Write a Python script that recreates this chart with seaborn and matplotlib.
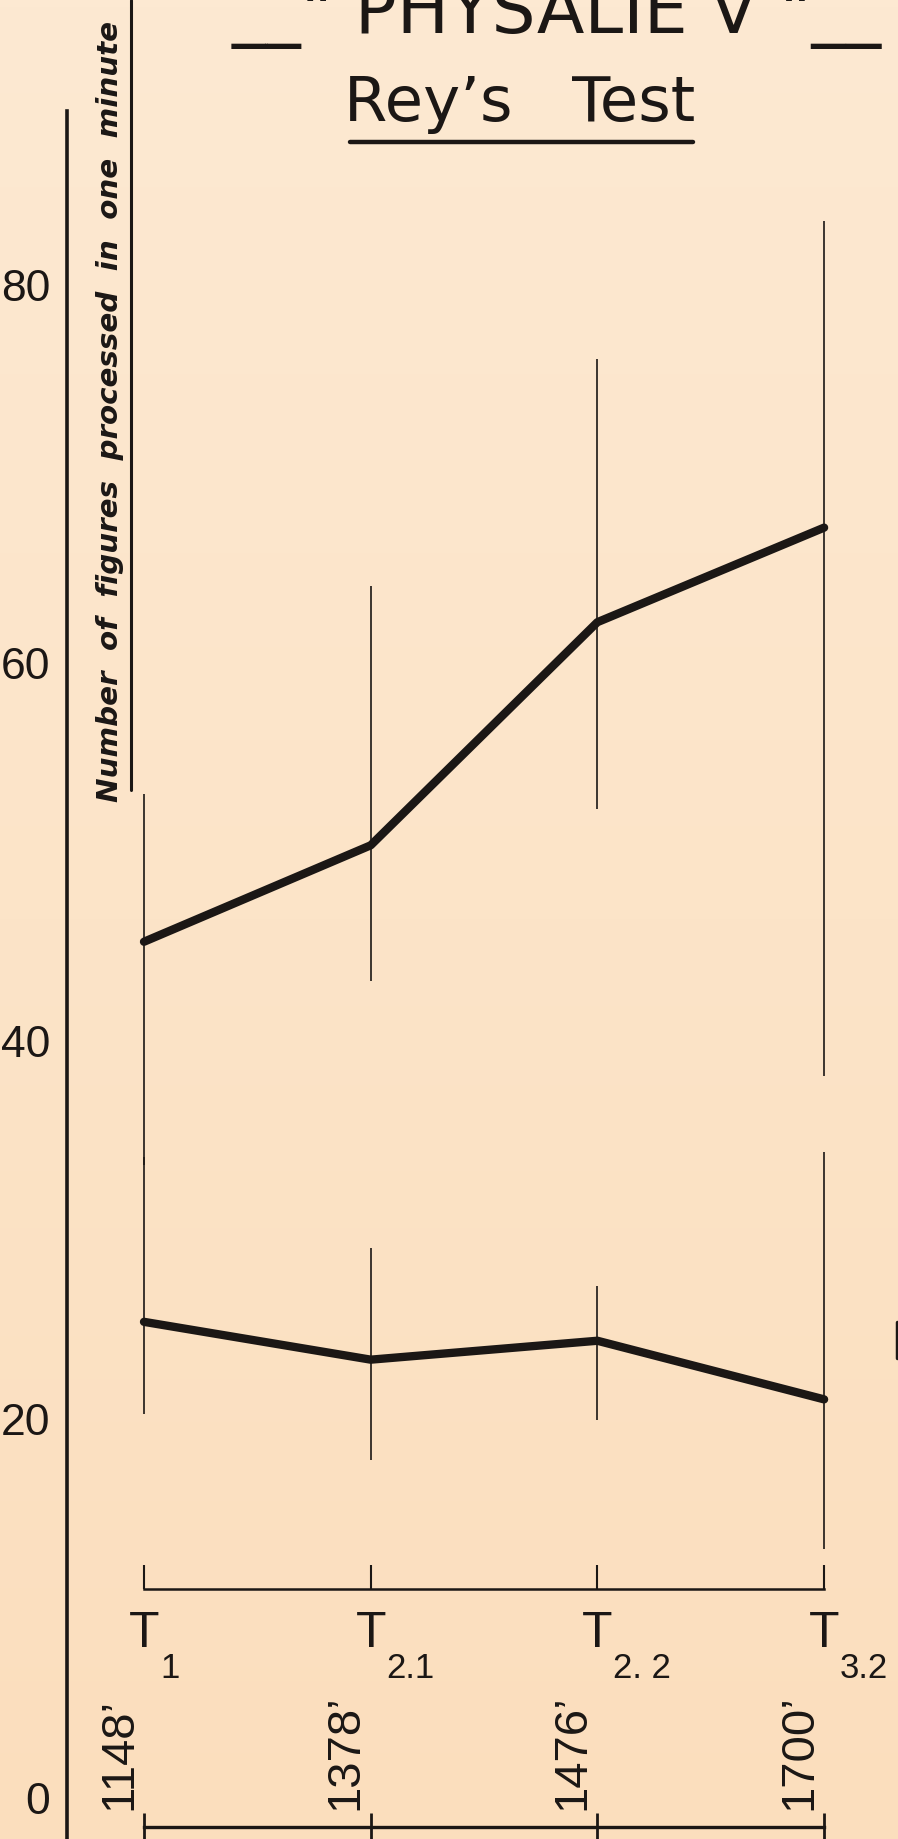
import matplotlib
matplotlib.use("Agg")
import matplotlib.pyplot as plt
from matplotlib.lines import Line2D
import numpy as np
import pandas as pd
import seaborn as sns

# ---- data ----
sessions = ["T", "T", "T", "T"]
session_subs = ["1", "2.1", "2. 2", "3.2"]
depths = ["1148\u2019", "1378\u2019", "1476\u2019", "1700\u2019"]

upper_mean = [46.1, 51.2, 63.0, 68.0]
upper_low = [34.3, 44.0, 53.1, 39.0]
upper_high = [53.9, 64.9, 76.9, 84.2]

lower_mean = [26.0, 24.0, 25.0, 21.9]
lower_low = [21.1, 18.7, 20.8, 14.0]
lower_high = [34.7, 29.9, 27.9, 35.0]

y_ticks = [0, 20, 40, 60, 80]

# ---- layout (pixels of the 898x1839 sheet) ----
W, H = 898, 1839
X0, DX = 144, 226.7      # pixel of first session, pixels per session
Y0, DY = 1813.5, 18.91   # pixel of value 0, pixels per unit
BG = "#FCE4C6"
INK = "#1b1715"
NUMS = ["Liberation Sans", "DejaVu Sans"]

sns.set_style("white")
plt.rcParams["font.family"] = ["DejaVu Sans"]


def fx(px):
    return px / W


def fy(py):
    return 1 - py / H


df = pd.DataFrame({
    "pos": list(range(4)) * 2,
    "mean": upper_mean + lower_mean,
    "low": upper_low + lower_low,
    "high": upper_high + lower_high,
    "series": ["upper"] * 4 + ["lower"] * 4,
})

fig = plt.figure(figsize=(W / 100, H / 100), dpi=100)
fig.patch.set_facecolor(BG)
ax = fig.add_axes([0, 0, 1, 1])
xlim = (-X0 / DX, (W - X0) / DX)
ylim = ((Y0 - H) / DY, Y0 / DY)

# paper tone, a little warmer toward the bottom
paper = np.linspace(0, 1, 256)[:, None]
cmap = matplotlib.colors.LinearSegmentedColormap.from_list(
    "paper", ["#FDE9D2", "#FCE4C8", "#FBDEBD"])
ax.imshow(paper, cmap=cmap, aspect="auto", extent=(*xlim, *ylim),
          origin="upper", zorder=0)
ax.set_xlim(*xlim)
ax.set_ylim(*ylim)

# range bars and mean lines
ax.vlines(df["pos"], df["low"], df["high"], color=INK, lw=1.2, zorder=2)
sns.lineplot(data=df, x="pos", y="mean", units="series", estimator=None,
             color=INK, lw=6, ax=ax, legend=False, solid_capstyle="round",
             zorder=3)
ax.set_xlabel("")
ax.set_ylabel("")

# y axis
for s in ["top", "right", "bottom"]:
    ax.spines[s].set_visible(False)
ax.spines["left"].set_position(("data", (67 - X0) / DX))
ax.spines["left"].set_bounds(ylim[0], (Y0 - 111) / DY)
ax.spines["left"].set_linewidth(2.6)
ax.spines["left"].set_color(INK)
ax.set_xticks([])
ax.set_yticks(y_ticks)
ax.tick_params(axis="y", direction="inout", length=22, width=2.2, pad=1,
               labelsize=32, colors=INK)
for lab in ax.get_yticklabels():
    lab.set_fontfamily(NUMS)
    lab.set_va("baseline")
ax.yaxis.get_major_ticks()[0].tick1line.set_visible(False)

# session bracket with T labels
sec = ax.secondary_xaxis(fy(1589))
sec.set_xticks(range(4), labels=sessions)
sec.spines["bottom"].set_bounds(0, 3)
sec.spines["bottom"].set_linewidth(1.8)
sec.spines["bottom"].set_color(INK)
sec.tick_params(direction="in", length=17, width=1.5, pad=16,
                labelsize=36, colors=INK)
for lab in sec.get_xticklabels():
    lab.set_fontfamily(NUMS)
for i, sub in enumerate(session_subs):
    ax.text(i + 16 / DX, (Y0 - 1652) / DY, sub, ha="left", va="top",
            fontsize=25, family=NUMS, color=INK)

# depth labels and lower scale
for i, d in enumerate(depths):
    ax.text(i - 3 / DX, (Y0 - 1810) / DY, d, rotation=90, ha="right",
            va="bottom", fontsize=34, family=NUMS, color=INK)
sec2 = ax.secondary_xaxis(fy(1827))
sec2.set_xticks(range(4))
sec2.spines["bottom"].set_bounds(0, 3)
sec2.spines["bottom"].set_linewidth(2.4)
sec2.spines["bottom"].set_color(INK)
sec2.tick_params(direction="inout", length=20, width=2.0,
                 labelbottom=False, colors=INK)

# axis title, rotated, with its rule
fig.text(fx(110), fy(802), "Number  of  figures  processed  in  one  minute",
         rotation=90, ha="center", va="bottom", fontsize=21.2,
         fontweight="bold", fontstyle="italic", color=INK)
fig.add_artist(Line2D([fx(131), fx(131)], [fy(0), fy(790)],
                      transform=fig.transFigure, lw=2.2, color=INK))

# titles
fig.text(fx(557), fy(33), "__\" PHYSALIE V \"__", ha="center", va="baseline",
         fontsize=50, color=INK)
fig.text(fx(520), fy(121), "Rey\u2019s   Test", ha="center", va="baseline",
         fontsize=45, color=INK)
fig.add_artist(Line2D([fx(350), fx(693)], [fy(142), fy(142)],
                      transform=fig.transFigure, lw=3.2, color=INK,
                      solid_capstyle="round"))

# edge of a neighbouring sign, cut by the sheet border
fig.add_artist(Line2D([fx(896.5), fx(896.5)], [fy(1322), fy(1358)],
                      transform=fig.transFigure, lw=2.5, color=INK))

fig.savefig("out.png", dpi=100, facecolor=BG)
